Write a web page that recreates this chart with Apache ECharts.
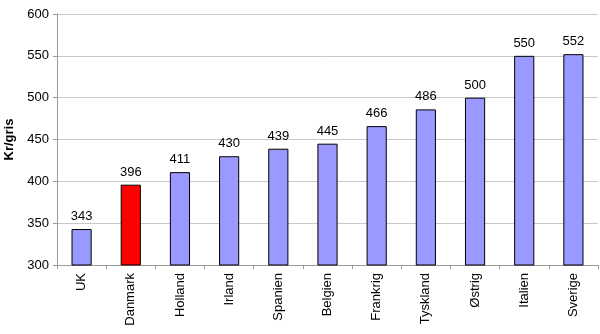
<!DOCTYPE html>
<html><head><meta charset="utf-8">
<script src="https://cdn.jsdelivr.net/npm/echarts@6/dist/echarts.min.js"></script>
<style>html,body{margin:0;padding:0;background:#fff}#c{width:600px;height:334px}</style>
</head><body><div id="c"></div>
<script>
const categories = ["UK","Danmark","Holland","Irland","Spanien","Belgien","Frankrig","Tyskland","Østrig","Italien","Sverige"];
const values = [343,396,411,430,439,445,466,486,500,550,552];
const highlight = "Danmark";
const chart = echarts.init(document.getElementById('c'), null, {renderer:'canvas'});
const F = 'Liberation Sans, Arial';
chart.setOption({
  animation:false,
  grid:{left:57,right:2,top:14,bottom:69,containLabel:false,outerBoundsMode:'none'},
  xAxis:{type:'category',data:categories,boundaryGap:true,
    axisLine:{lineStyle:{color:'#999',width:1}},
    axisTick:{show:true,length:4,lineStyle:{color:'#999'}},
    axisLabel:{rotate:90,color:'#000',fontFamily:F,fontSize:13,margin:8,interval:0}},
  yAxis:{type:'value',min:300,max:600,interval:50,name:'Kr/gris',nameLocation:'middle',nameGap:41,
    nameTextStyle:{fontWeight:'bold',fontFamily:F,fontSize:13,color:'#000'},
    axisLine:{show:true,lineStyle:{color:'#999'}},
    axisTick:{show:true,length:4,lineStyle:{color:'#999'}},
    splitLine:{lineStyle:{color:'#c8c8c8',width:1}},
    axisLabel:{color:'#000',fontFamily:F,fontSize:13,margin:8}},
  series:[{type:'bar',barWidth:'41%',
    data:values.map((v,i)=>({value:v,itemStyle:{color:categories[i]===highlight?'#ff0000':'#9999ff'}})),
    itemStyle:{borderColor:'#000',borderWidth:1},
    label:{show:true,position:'top',distance:6,color:'#000',fontFamily:F,fontSize:13}}]
});
</script></body></html>
